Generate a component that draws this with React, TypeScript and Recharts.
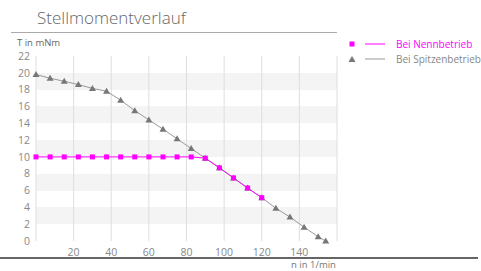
import { LineChart, Line, XAxis, YAxis, CartesianGrid } from "recharts";

// Drehzahl n in 1/min, Moment T in mNm
const nennN = [0, 7.5, 15, 22.5, 30, 37.5, 45, 52.5, 60, 67.5, 75, 82.5, 90, 97.5, 105, 112.5, 120];
const nennT = [10, 10, 10, 10, 10, 10, 10, 10, 10, 10, 10, 10, 9.85, 8.7, 7.5, 6.3, 5.15];

const spitzeN = [0, 7.5, 15, 22.5, 30, 37.5, 45, 52.5, 60, 67.5, 75, 82.5, 90, 97.5, 105, 112.5, 120, 127.5, 135, 142.5, 150, 154];
const spitzeT = [19.8, 19.35, 19.0, 18.6, 18.15, 17.8, 16.75, 15.5, 14.4, 13.3, 12.15, 11.0, 9.85, 8.7, 7.5, 6.3, 5.15, 3.9, 2.85, 1.65, 0.5, 0];

const xTicks = [0, 20, 40, 60, 80, 100, 120, 140, 160];
const yTicks = [0, 2, 4, 6, 8, 10, 12, 14, 16, 18, 20, 22];

const MAGENTA = "#ff00ff";
const GREY = "#777";
const FONT = "'Open Sans', sans-serif";

const nennData = nennN.map((n, i) => ({ n, t: nennT[i] }));
const spitzeData = spitzeN.map((n, i) => ({ n, t: spitzeT[i] }));

const SquareDot = (props: any) => {
  const { cx, cy, index } = props;
  return <rect key={`sq-${index}`} x={cx - 2.5} y={cy - 2.5} width={5} height={5} fill={MAGENTA} />;
};

const TriangleDot = (props: any) => {
  const { cx, cy, index } = props;
  return (
    <path
      key={`tr-${index}`}
      d={`M${cx - 3.5},${cy + 2.5} L${cx + 3.5},${cy + 2.5} L${cx},${cy - 3.5} Z`}
      fill={GREY}
    />
  );
};

const App = () => {
  return (
    <div style={{ position: "absolute", left: 0, top: 0, width: 481, height: 271, background: "#fff", fontFamily: FONT }}>
      <div style={{ position: "absolute", left: 37, top: 7, fontSize: 17, fontWeight: 300, color: "#666", lineHeight: "22px", whiteSpace: "nowrap" }}>
        Stellmomentverlauf
      </div>
      <div style={{ position: "absolute", left: 11, top: 32, width: 326, height: 1, background: "#aaa" }} />
      <div style={{ position: "absolute", left: 17, top: 36, fontSize: 9.5, color: "#666", lineHeight: "13px", whiteSpace: "nowrap" }}>T in mNm</div>

      <LineChart width={481} height={271} data={spitzeData} margin={{ top: 56, right: 144, bottom: 10, left: 0 }}>
        <CartesianGrid vertical={false} stroke="none" horizontalFill={["#ffffff", "#f4f4f4"]} />
        <CartesianGrid horizontal={false} stroke="#dedede" />
        <XAxis
          type="number"
          dataKey="n"
          domain={[0, 160]}
          ticks={xTicks}
          interval={0}
          tickFormatter={(v: number) => (v === 0 || v === 160 ? "" : String(v))}
          axisLine={false}
          tickLine={false}
          height={20}
          tick={{ fontSize: 10.5, fill: "#888", fontFamily: FONT }}
        />
        <YAxis
          type="number"
          domain={[0, 22]}
          ticks={yTicks}
          interval={0}
          axisLine={false}
          tickLine={false}
          tickSize={4}
          width={36}
          tick={{ fontSize: 10.5, fill: "#888", fontFamily: FONT }}
        />
        <Line data={spitzeData} dataKey="t" stroke="#999" strokeWidth={1} dot={TriangleDot} isAnimationActive={false} />
        <Line data={nennData} dataKey="t" stroke={MAGENTA} strokeWidth={1} dot={SquareDot} isAnimationActive={false} />
      </LineChart>

      <div style={{ position: "absolute", left: 0, top: 257, width: 478, height: 1.5, background: "#666" }} />
      <div style={{ position: "absolute", left: 291, top: 259, fontSize: 9.5, color: "#777", lineHeight: "12px", whiteSpace: "nowrap" }}>n in 1/min</div>

      <svg style={{ position: "absolute", left: 345, top: 36 }} width={50} height={30}>
        <rect x={4.5} y={5.5} width={5} height={5} fill={MAGENTA} />
        <line x1={20} y1={8} x2={40} y2={8} stroke={MAGENTA} strokeWidth={1} />
        <path d="M3.5,26 L10.5,26 L7,20 Z" fill={GREY} />
        <line x1={20} y1={23} x2={40} y2={23} stroke="#999" strokeWidth={1} />
      </svg>
      <div style={{ position: "absolute", left: 396, top: 37, fontSize: 10, color: MAGENTA, lineHeight: "14px", whiteSpace: "nowrap" }}>Bei Nennbetrieb</div>
      <div style={{ position: "absolute", left: 396, top: 52, fontSize: 10, color: "#888", lineHeight: "14px", whiteSpace: "nowrap" }}>Bei Spitzenbetrieb</div>
    </div>
  );
};

export default App;
